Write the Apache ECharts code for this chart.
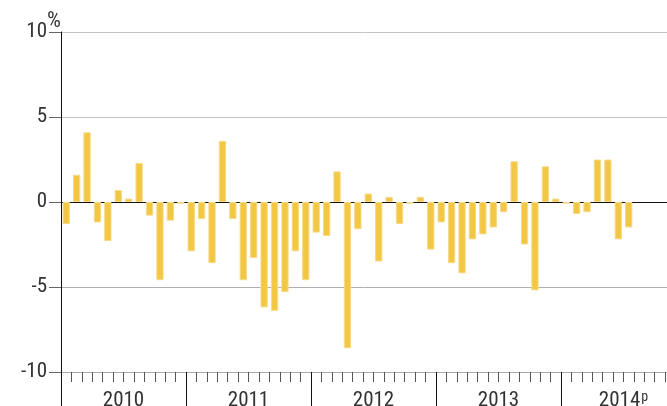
<!DOCTYPE html>
<html>
<head>
<meta charset="utf-8">
<script src="https://cdn.jsdelivr.net/npm/echarts@6/dist/echarts.min.js"></script>
<style>
  html, body { margin: 0; padding: 0; background: #fff; }
  #chart { width: 667px; height: 406px; }
</style>
</head>
<body>
<div id="chart"></div>
<script>
// year labels and month names (x axis)
const years = ['2010', '2011', '2012', '2013', '2014'];
const monthNames = ['Jan', 'Feb', 'Mar', 'Apr', 'May', 'Jun', 'Jul', 'Aug', 'Sep', 'Oct', 'Nov', 'Dec'];

// monthly change, %
const values2010 = [-1.3, 1.6, 4.1, -1.2, -2.3, 0.7, 0.2, 2.3, -0.8, -4.6, -1.1, -0.1];
const values2011 = [-2.9, -1.0, -3.6, 3.6, -1.0, -4.6, -3.3, -6.2, -6.4, -5.3, -2.9, -4.6];
const values2012 = [-1.8, -2.0, 1.8, -8.6, -1.6, 0.5, -3.5, 0.3, -1.3, -0.1, 0.3, -2.8];
const values2013 = [-1.2, -3.6, -4.2, -2.2, -1.9, -1.5, -0.6, 2.4, -2.5, -5.2, 2.1, 0.2];
const values2014 = [-0.1, -0.7, -0.6, 2.5, 2.5, -2.2, -1.5, null, null, null, null, null];

// y axis ticks
const yTicks = [-10, -5, 0, 5, 10];

const font = '"Roboto Condensed", "DejaVu Sans Condensed", sans-serif';

const months = [];
years.forEach(y => monthNames.forEach(m => months.push(m + ' ' + y)));
const values = [].concat(values2010, values2011, values2012, values2013, values2014);

const chart = echarts.init(document.getElementById('chart'));

const option = {
  animation: false,
  grid: {
    left: 61,
    top: 32,
    bottom: 34,
    width: 625,
    outerBoundsMode: 'none',
    containLabel: false
  },
  xAxis: [
    {
      type: 'category',
      data: months,
      axisLine: {
        onZero: false,
        lineStyle: { color: '#aaa', width: 1 }
      },
      axisTick: {
        show: true,
        interval: 0,
        length: 10,
        lineStyle: { color: '#555', width: 1 }
      },
      axisLabel: { show: false },
      splitLine: { show: false }
    },
    {
      type: 'category',
      data: years,
      position: 'bottom',
      axisLine: { show: false, onZero: false },
      axisTick: {
        show: true,
        interval: 0,
        length: 34,
        lineStyle: { color: '#111', width: 1 }
      },
      axisLabel: {
        interval: 0,
        margin: 18,
        fontFamily: font,
        fontSize: 21,
        color: '#333',
        formatter: v => v === '2014' ? '2014{p|p}' : v,
        rich: {
          p: { fontFamily: font, fontSize: 14, color: '#333', verticalAlign: 'top', padding: [0, 0, 6, 1] }
        }
      },
      splitLine: { show: false }
    }
  ],
  yAxis: {
    type: 'value',
    min: yTicks[0],
    max: yTicks[yTicks.length - 1],
    interval: 5,
    name: '%',
    nameLocation: 'end',
    nameGap: 22,
    nameMoveOverlap: false,
    nameTextStyle: {
      fontFamily: font,
      fontSize: 22,
      color: '#333',
      align: 'right',
      verticalAlign: 'top',
      padding: [0, 0, 0, 0]
    },
    axisLine: {
      show: true,
      lineStyle: { color: '#111', width: 1 }
    },
    axisTick: {
      show: true,
      length: 12,
      lineStyle: { color: '#666', width: 1 }
    },
    axisLabel: {
      margin: 14,
      fontFamily: font,
      fontSize: 21,
      color: '#333'
    },
    splitLine: {
      show: true,
      lineStyle: {
        color: ['#aaa', '#b0b0b0', '#111', '#c4c4c4', '#c4c4c4'],
        width: 1
      }
    }
  },
  series: [
    {
      type: 'bar',
      data: values,
      xAxisIndex: 0,
      barWidth: '70%',
      itemStyle: {
        color: '#F2C744',
        borderColor: '#F7DA88',
        borderWidth: 1
      }
    }
  ]
};

chart.setOption(option);
</script>
</body>
</html>
